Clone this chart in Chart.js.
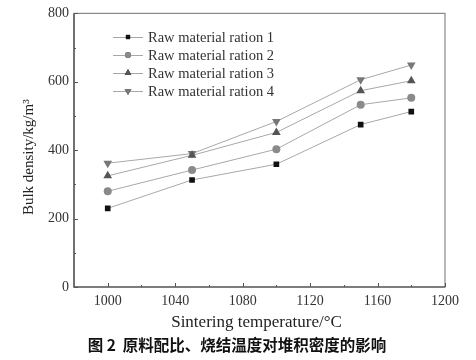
<!DOCTYPE html>
<html>
<head>
<meta charset="utf-8">
<script src="https://cdn.jsdelivr.net/npm/chart.js@4/dist/chart.umd.min.js"></script>
<style>
html,body{margin:0;padding:0;background:#fff;}
#wrap{width:476px;height:360px;position:relative;}
</style>
</head>
<body>
<div id="wrap"><canvas id="c" width="476" height="360"></canvas></div>
<script>
const temperatures = [1000, 1050, 1100, 1150, 1180];
const ration1 = [230, 313, 359, 475, 513];
const ration2 = [280, 342, 403, 533, 553];
const ration3 = [325, 385, 452, 574, 603];
const ration4 = [362, 390, 484, 606, 649];
const seriesNames = ['Raw material ration 1','Raw material ration 2','Raw material ration 3','Raw material ration 4'];
const xTicks = [1000, 1040, 1080, 1120, 1160, 1200];
const yTicks = [0, 200, 400, 600, 800];
const xTitle = 'Sintering temperature/\u00B0C';
const yTitle = 'Bulk density/kg/m\u00B3';
const caption = '图 2  原料配比、烧结温度对堆积密度的影响';

const serif = '"Liberation Serif", "DejaVu Serif", serif';
const lineColor = '#a8a8a8';
const styles = [
  {pt:'rect', color:'#111', r:4},
  {pt:'circle', color:'#8a8a8a', r:4},
  {pt:'triangle', color:'#555', r:5, rot:0},
  {pt:'triangle', color:'#777', r:5, rot:180}
];
const allSeries = [ration1, ration2, ration3, ration4];

const datasets = allSeries.map((vals, i) => ({
  label: seriesNames[i],
  data: temperatures.map((t, j) => ({x: t, y: vals[j]})),
  borderColor: lineColor,
  borderWidth: 1,
  backgroundColor: styles[i].color,
  pointBackgroundColor: styles[i].color,
  pointBorderColor: styles[i].color,
  pointBorderWidth: 0,
  pointStyle: styles[i].pt,
  pointRotation: styles[i].rot || 0,
  pointRadius: styles[i].r,
  tension: 0
}));

const decor = {
  id: 'decor',
  afterDraw(chart) {
    const ctx = chart.ctx;
    const a = chart.chartArea;
    const xs = chart.scales.x, ys = chart.scales.y;
    ctx.save();
    // frame
    ctx.strokeStyle = '#888';
    ctx.lineWidth = 1.2;
    ctx.strokeRect(a.left, a.top, a.right - a.left, a.bottom - a.top);
    ctx.strokeStyle = '#444';
    ctx.beginPath();
    ctx.moveTo(a.left, a.top); ctx.lineTo(a.left, a.bottom); ctx.lineTo(a.right, a.bottom);
    ctx.stroke();
    // inward ticks
    ctx.lineWidth = 1;
    ctx.strokeStyle = '#555';
    ctx.beginPath();
    for (let v = 1000; v <= 1200; v += 20) {
      const px = Math.round(xs.getPixelForValue(v)) + 0.5;
      const len = (v % 40 === 0) ? 4 : 2;
      ctx.moveTo(px, a.bottom); ctx.lineTo(px, a.bottom - len);
    }
    for (let v = 0; v <= 800; v += 100) {
      const py = Math.round(ys.getPixelForValue(v)) + 0.5;
      const len = (v % 200 === 0) ? 4 : 2;
      ctx.moveTo(a.left, py); ctx.lineTo(a.left + len, py);
    }
    ctx.stroke();
    // legend
    ctx.font = '14.5px ' + serif;
    ctx.textBaseline = 'middle';
    ctx.textAlign = 'left';
    const ly0 = 37, dy = 18, lx0 = 113, lx1 = 143;
    chart.data.datasets.forEach((ds, i) => {
      const y = ly0 + i * dy;
      ctx.strokeStyle = lineColor; ctx.lineWidth = 1;
      ctx.beginPath(); ctx.moveTo(lx0, y + 0.5); ctx.lineTo(lx1, y + 0.5); ctx.stroke();
      Chart.helpers.drawPoint(ctx, {pointStyle: ds.pointStyle, radius: ds.pointRadius - 1, rotation: ds.pointRotation, borderWidth: 0}, (lx0 + lx1) / 2, y);
      ctx.fillStyle = ds.pointBackgroundColor;
      ctx.fill();
      ctx.fillStyle = '#333';
      ctx.fillText(ds.label, 148, y + 1);
    });
    // axis titles
    ctx.fillStyle = '#222';
    ctx.font = '17px ' + serif;
    ctx.textAlign = 'center';
    ctx.fillText(xTitle, (a.left + a.right) / 2 - 3, 323);
    ctx.font = '15px ' + serif;
    ctx.save();
    ctx.translate(29, (a.top + a.bottom) / 2 + 7);
    ctx.rotate(-Math.PI / 2);
    ctx.fillText(yTitle, 0, 0);
    ctx.restore();
    // caption
    ctx.font = 'bold 15.5px "Noto Sans CJK SC", sans-serif';
    ctx.fillStyle = '#111';
    ctx.fillText(caption, 237, 345);
    ctx.restore();
  }
};

new Chart(document.getElementById('c'), {
  type: 'line',
  data: { datasets },
  options: {
    responsive: false,
    animation: false,
    devicePixelRatio: 1,
    layout: { padding: { top: 11, right: 31, left: 0, bottom: 0 } },
    plugins: { legend: { display: false }, tooltip: { enabled: false }, title: { display: false } },
    scales: {
      x: {
        type: 'linear', min: 980, max: 1200,
        afterBuildTicks(s) { s.ticks = xTicks.map(v => ({value: v})); },
        afterFit(s) { s.height = 73; },
        grid: { display: false, drawTicks: false },
        border: { display: false },
        ticks: { font: { family: serif, size: 14 }, color: '#333', padding: 6, maxRotation: 0, autoSkip: false, callback: v => String(v) }
      },
      y: {
        type: 'linear', min: 0, max: 800,
        afterBuildTicks(s) { s.ticks = yTicks.map(v => ({value: v})); },
        afterFit(s) { s.width = 74; },
        grid: { display: false, drawTicks: false },
        border: { display: false },
        ticks: { font: { family: serif, size: 14 }, color: '#333', padding: 5, callback: v => String(v) }
      }
    }
  },
  plugins: [decor]
});
</script>
</body>
</html>
